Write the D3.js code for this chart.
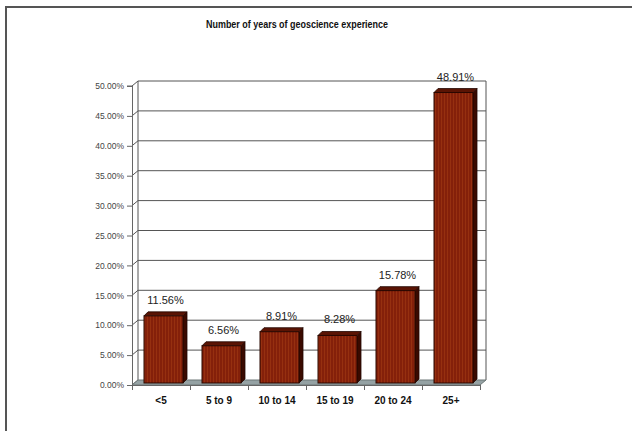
<!DOCTYPE html>
<html><head><meta charset="utf-8">
<script src="https://cdn.jsdelivr.net/npm/d3@7"></script>
<style>html,body{margin:0;padding:0;background:#fff;}svg{display:block;}</style>
</head><body>
<svg id="c" width="632" height="431"></svg>
<script>
const categories = ["<5", "5 to 9", "10 to 14", "15 to 19", "20 to 24", "25+"];
const values = [11.56, 6.56, 8.91, 8.28, 15.78, 48.91];
const valueLabels = ["11.56%", "6.56%", "8.91%", "8.28%", "15.78%", "48.91%"];
const yTicks = [0, 5, 10, 15, 20, 25, 30, 35, 40, 45, 50];
const title = "Number of years of geoscience experience";

const svg = d3.select("#c");
const depthX = 6, depthY = -5;   // wall depth
const barDX = 4, barDY = -4;     // bar depth

// frame
svg.append("rect").attr("x", 6).attr("y", 7).attr("width", 700).attr("height", 500)
  .attr("fill", "#fff").attr("stroke", "#555").attr("stroke-width", 2);

const x = d3.scaleBand().domain(categories).range([132, 480]).paddingInner(0).paddingOuter(0);
const y = d3.scaleLinear().domain([0, 50]).range([385, 86]);

const defs = svg.append("defs");
const pat = defs.append("pattern").attr("id", "stripe").attr("patternUnits", "userSpaceOnUse")
  .attr("width", 3).attr("height", 4);
pat.append("rect").attr("width", 3).attr("height", 4).attr("fill", "#84200a");
pat.append("rect").attr("width", 1).attr("height", 4).attr("fill", "#963010");

const xL = x.range()[0], xR = x.range()[1];

// back wall gridlines
const g = svg.append("g");
yTicks.forEach(t => {
  const yy = y(t);
  if (t > 0) {
    g.append("line").attr("x1", xL + depthX).attr("x2", xR + depthX)
      .attr("y1", yy + depthY).attr("y2", yy + depthY).attr("stroke", "#555").attr("stroke-width", 1);
  }
  g.append("line").attr("x1", xL).attr("x2", xL + depthX)
    .attr("y1", yy).attr("y2", yy + depthY).attr("stroke", "#555").attr("stroke-width", 1);
});
g.append("line").attr("x1", xL + depthX).attr("x2", xL + depthX).attr("y1", y(50) + depthY).attr("y2", y(0) + depthY)
  .attr("stroke", "#555");
g.append("line").attr("x1", xR + depthX).attr("x2", xR + depthX).attr("y1", y(50) + depthY).attr("y2", y(0) + depthY)
  .attr("stroke", "#555");

// floor
const floorPts = [[xL, y(0)], [xR, y(0)], [xR + depthX, y(0) + depthY], [xL + depthX, y(0) + depthY]];
svg.append("polygon").attr("points", floorPts.map(p => p.join(",")).join(" "))
  .attr("fill", "#95a2a4").attr("stroke", "#6d7777").attr("stroke-width", 1);

// y axis
const yAxis = d3.axisLeft(y).tickValues(yTicks).tickSize(5).tickPadding(3)
  .tickFormat(d => d.toFixed(2) + "%");
const ya = svg.append("g").attr("transform", `translate(${xL},0)`).call(yAxis);
ya.select(".domain").attr("stroke", "#666").attr("d", `M-5,${y(50)}H0.5V${y(0) + 4}`);
ya.selectAll(".tick line").attr("stroke", "#666");
ya.selectAll("text").attr("font-family", "Arial, 'Liberation Sans', sans-serif").attr("font-size", 8.5)
  .attr("fill", "#444");

// x axis
const xAxis = d3.axisBottom(x).tickSize(0).tickPadding(12);
const xa = svg.append("g").attr("transform", `translate(0,${y(0)})`).call(xAxis);
xa.select(".domain").attr("stroke", "#666");
xa.selectAll("text").attr("font-family", "Arial, 'Liberation Sans', sans-serif").attr("font-size", 10)
  .attr("font-weight", "bold").attr("fill", "#111");
const bounds = categories.map(c => x(c)).concat([xR]);
xa.selectAll(".bt").data(bounds).enter().append("line").attr("class", "bt")
  .attr("x1", d => d + 0.5).attr("x2", d => d + 0.5).attr("y1", 0).attr("y2", 5).attr("stroke", "#666");

// bars
const bw = 39, off = 12, bottom = 383;
const bars = svg.append("g");
categories.forEach((c, i) => {
  const x0 = x(c) + off, x1 = x0 + bw, yt = y(values[i]);
  bars.append("polygon").attr("points", [[x1, yt], [x1 + barDX, yt + barDY], [x1 + barDX, bottom + barDY], [x1, bottom]].map(p => p.join(",")).join(" "))
    .attr("fill", "#3a0a00").attr("stroke", "#220600").attr("stroke-width", 0.8);
  bars.append("polygon").attr("points", [[x0, yt], [x0 + barDX, yt + barDY], [x1 + barDX, yt + barDY], [x1, yt]].map(p => p.join(",")).join(" "))
    .attr("fill", "#5a1404").attr("stroke", "#220600").attr("stroke-width", 0.8);
  bars.append("rect").attr("x", x0).attr("y", yt).attr("width", bw).attr("height", bottom - yt)
    .attr("fill", "url(#stripe)").attr("stroke", "#2a0800").attr("stroke-width", 1);
  svg.append("text").attr("x", x0 + bw / 2 + 2).attr("y", yt - 12).attr("text-anchor", "middle")
    .attr("font-family", "Arial, 'Liberation Sans', sans-serif").attr("font-size", 11).attr("fill", "#222")
    .text(valueLabels[i]);
});

// title (condensed bold, as in the reference)
svg.append("text").attr("x", 297).attr("y", 28).attr("text-anchor", "middle")
  .attr("font-family", "Arial, 'Liberation Sans', sans-serif").attr("font-size", 11.5).attr("font-weight", "bold")
  .attr("textLength", 182).attr("lengthAdjust", "spacingAndGlyphs")
  .attr("fill", "#111").text(title);
</script>
</body></html>
